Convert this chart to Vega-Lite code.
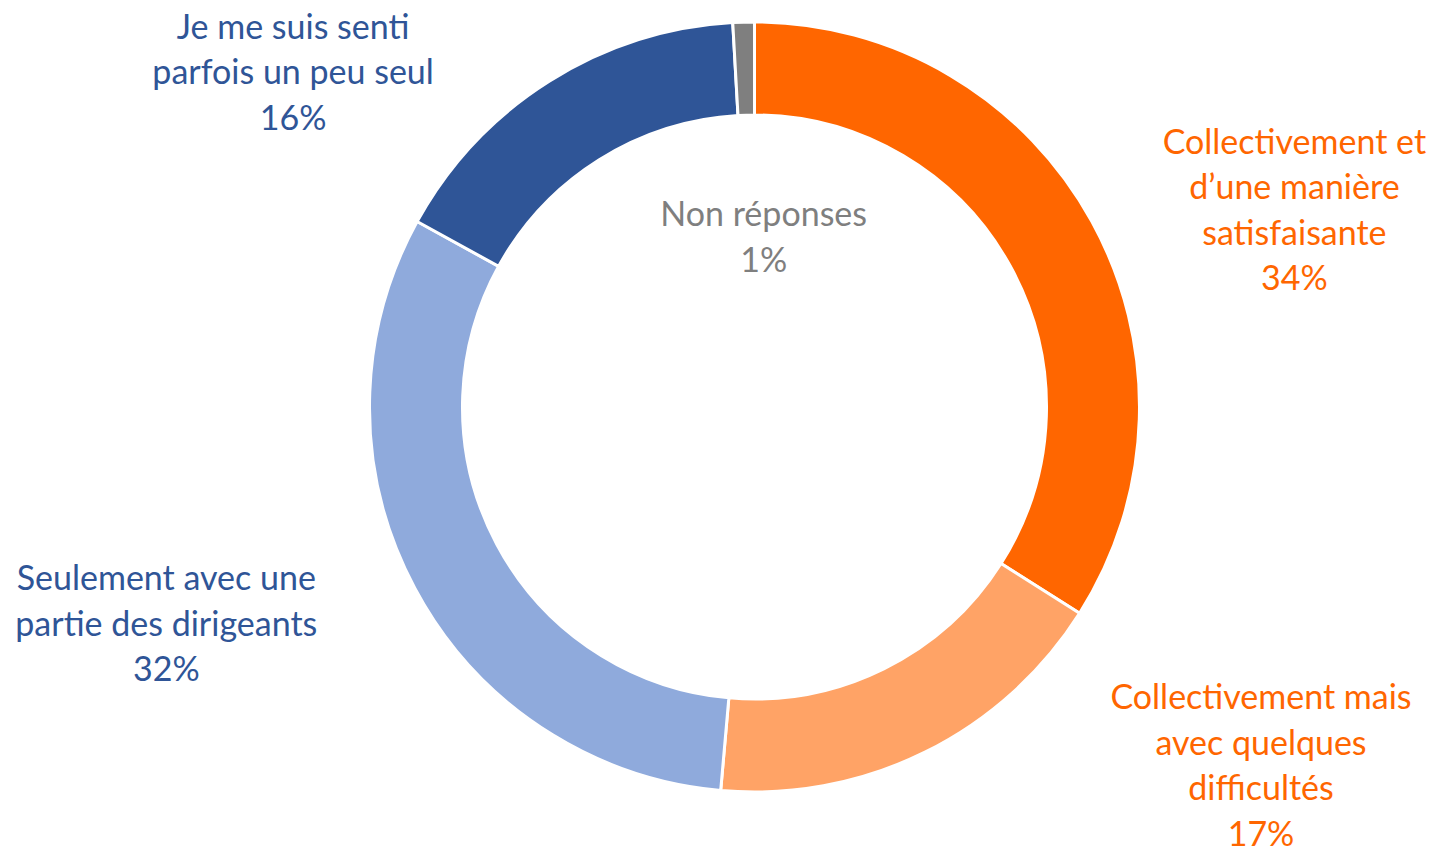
{
  "$schema": "https://vega.github.io/schema/vega-lite/v6.json",
  "width": 1357,
  "height": 814,
  "autosize": {"type": "none"},
  "padding": {"left": 76, "top": 0, "right": 0, "bottom": 34},
  "background": "white",
  "config": {"view": {"stroke": null}, "font": "Lato"},
  "data": {
    "values": [
      {"order": 1, "category": "Collectivement et d’une manière satisfaisante", "value": 34.0, "label": ["Collectivement et", "d’une manière", "satisfaisante", "34%"]},
      {"order": 2, "category": "Collectivement mais avec quelques difficultés", "value": 17.4, "label": ["Collectivement mais", "avec quelques", "difficultés", "17%"]},
      {"order": 3, "category": "Seulement avec une partie des dirigeants", "value": 31.6, "label": ["Seulement avec une", "partie des dirigeants", "32%"]},
      {"order": 4, "category": "Je me suis senti parfois un peu seul", "value": 16.1, "label": ["Je me suis senti", "parfois un peu seul", "16%"]},
      {"order": 5, "category": "Non réponses", "value": 0.9, "label": ["Non réponses", "1%"]}
    ]
  },
  "encoding": {
    "theta": {"field": "value", "type": "quantitative", "stack": true},
    "order": {"field": "order", "type": "quantitative"},
    "detail": {"field": "category", "type": "nominal"}
  },
  "layer": [
    {
      "mark": {"type": "arc", "outerRadius": 385, "innerRadius": 292, "stroke": "white", "strokeWidth": 3},
      "encoding": {
        "color": {
          "field": "category", "type": "nominal", "legend": null,
          "scale": {
            "domain": ["Collectivement et d’une manière satisfaisante", "Collectivement mais avec quelques difficultés", "Seulement avec une partie des dirigeants", "Je me suis senti parfois un peu seul", "Non réponses"],
            "range": ["#FF6600", "#FFA366", "#8FAADC", "#2F5597", "#7F7F7F"]
          }
        }
      }
    },
    {
      "mark": {"type": "text", "radius": 575, "dx": 36, "dy": 14, "fontSize": 34, "lineHeight": 45.5, "align": "center", "baseline": "middle", "color": "#FF6600"},
      "encoding": {"text": {"condition": {"test": "datum.order === 1", "field": "label"}, "value": ""}}
    },
    {
      "mark": {"type": "text", "radius": 620, "dx": 232, "dy": -263.5, "fontSize": 34, "lineHeight": 45.5, "align": "center", "baseline": "middle", "color": "#FF6600"},
      "encoding": {"text": {"condition": {"test": "datum.order === 2", "field": "label"}, "value": ""}}
    },
    {
      "mark": {"type": "text", "radius": 627, "dx": -35, "dy": -122, "fontSize": 34, "lineHeight": 45.5, "align": "center", "baseline": "middle", "color": "#2F5597"},
      "encoding": {"text": {"condition": {"test": "datum.order === 3", "field": "label"}, "value": ""}}
    },
    {
      "mark": {"type": "text", "radius": 570, "dx": -157.5, "dy": 104, "fontSize": 34, "lineHeight": 45.5, "align": "center", "baseline": "middle", "color": "#2F5597"},
      "encoding": {"text": {"condition": {"test": "datum.order === 4", "field": "label"}, "value": ""}}
    },
    {
      "mark": {"type": "text", "radius": 171, "dx": 14, "dy": -20, "fontSize": 34, "lineHeight": 45.5, "align": "center", "baseline": "middle", "color": "#7F7F7F"},
      "encoding": {"text": {"condition": {"test": "datum.order === 5", "field": "label"}, "value": ""}}
    }
  ]
}
